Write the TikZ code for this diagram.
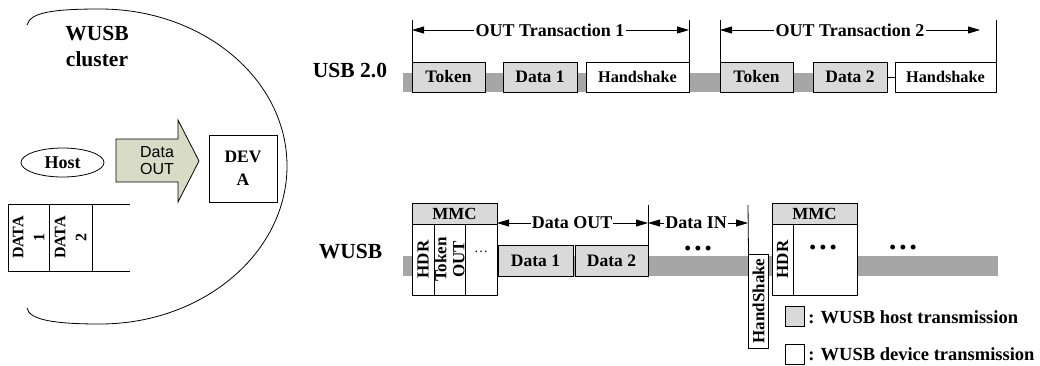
\documentclass[tikz,border=0pt]{standalone}
\usepackage{fontspec}
\setmainfont{Liberation Serif}
\newfontfamily\arialf{Liberation Sans}
\usetikzlibrary{arrows.meta,shapes.geometric}
\definecolor{hostgray}{HTML}{D9D9D9}
\definecolor{bandgray}{HTML}{A6A6A6}
\definecolor{arrowfill}{HTML}{D8DCC6}
\newcommand\bfs[2]{\fontsize{#1}{#2}\selectfont\bfseries}
\begin{document}
\begin{tikzpicture}[x=1pt,y=-1pt,line width=0.8pt,
  cell/.style={draw,inner sep=0pt,outer sep=0pt,font=\bfs{17.5}{18}},
  hbox/.style={cell,fill=hostgray},
  dbox/.style={cell,fill=white},
  band/.style={fill=bandgray,draw=none},
  dimarr/.style={-{Triangle[length=12pt,width=7pt]}},
  lbl/.style={inner sep=1pt,font=\bfs{18}{20}},
  biglbl/.style={inner sep=0pt,font=\bfs{21.5}{24}},
  rot/.style={rotate=90,align=center},
  dots/.style={inner sep=0pt,font=\bfs{18}{18}}
]
\useasboundingbox (0,0) rectangle (1040,365);

% ---------- left: WUSB cluster ----------
\draw (27,25) .. controls (30,12) and (55,9) .. (100,9)
      .. controls (203,9) and (287,79) .. (287,166)
      .. controls (287,253) and (203,324) .. (100,324)
      .. controls (55,324) and (29,320) .. (27,308);
\node[biglbl,anchor=base] (cl1) at (97,40.7) {WUSB};
\node[biglbl,anchor=base] (cl2) at (97,66) {cluster};

\node[draw,ellipse,minimum width=83pt,minimum height=29pt,inner sep=0pt,
      font=\bfs{18}{20}] (host) at (62.5,162.5) {Host};

\draw[fill=arrowfill] (116,139) -- (178,139) -- (178,120) -- (199,161)
      -- (178,202) -- (178,182) -- (116,182) -- cycle;
\node[align=center,inner sep=0pt,font=\arialf\fontsize{16}{17}\selectfont]
      (dout) at (157,161) {Data\\OUT};

\node[dbox,minimum width=68pt,minimum height=67pt,align=center,
      font=\bfs{17.5}{23}] (deva) at (243,168.5) {DEV\\A};

\node[cell,rot,minimum width=67pt,minimum height=41pt,font=\bfs{16}{21}]
      (q1) at (28.5,237.5) {DATA\\1};
\node[cell,rot,minimum width=67pt,minimum height=43pt,font=\bfs{16}{21}]
      (q2) at (70.5,237.5) {DATA\\2};
\coordinate (qt) at (130,204);
\coordinate (qb) at (130,271);
\draw (q2.south east) -- (qt);
\draw (q2.south west) -- (qb);

% ---------- USB 2.0 ----------
\node[biglbl] (usb) at (350,70) {USB 2.0};
\fill[band] (403,73) rectangle (887,92);
\node[hbox,minimum width=73pt,minimum height=30pt] (tok1) at (448.5,77) {Token};
\node[hbox,minimum width=74pt,minimum height=30pt] (dat1) at (540,77) {Data 1};
\node[dbox,minimum width=103pt,minimum height=30pt,font=\bfs{16.3}{18}] (hs1) at (637.5,77) {Handshake};
\node[hbox,minimum width=73pt,minimum height=30pt] (tok2) at (756.5,77) {Token};
\node[hbox,minimum width=74pt,minimum height=30pt] (dat2) at (850,77) {Data 2};
\node[dbox,minimum width=101pt,minimum height=30pt,font=\bfs{16.3}{18}] (hs2) at (945.5,77) {Handshake};
\draw (dat2.east) -- (hs2.west);

\coordinate (v1) at (412,20);
\coordinate (v2) at (689,20);
\coordinate (v3) at (720,20);
\coordinate (v4) at (996,20);
\draw (tok1.north west) -- (v1);
\draw (hs1.north east) -- (v2);
\draw (tok2.north west) -- (v3);
\draw (hs2.north east) -- (v4);
\node[lbl] (tr1) at (550,30) {OUT Transaction 1};
\node[lbl] (tr2) at (850,30) {OUT Transaction 2};
\draw[dimarr] (tr1.west) -- (tr1.west -| v1);
\draw[dimarr] (tr1.east) -- (tr1.east -| v2);
\draw[dimarr] (tr2.west) -- (tr2.west -| v3);
\coordinate (tr2r) at (980,30);
\draw[dimarr] (tr2.east) -- (tr2r);

% ---------- WUSB ----------
\node[biglbl] (wusb) at (350.5,251.5) {WUSB};
\fill[band] (403,256) rectangle (998,276);

\node[hbox,minimum width=85pt,minimum height=21pt,font=\bfs{17}{18}] (mmc1) at (454.5,213.5) {MMC};
\node[cell,rot,minimum width=71pt,minimum height=22pt,fill=white,font=\bfs{17}{18}] (hdr1) at (423,259.5) {HDR};
\node[cell,rot,minimum width=71pt,minimum height=31pt,fill=white,font=\bfs{17}{18}] (tko) at (449.5,259.5) {Token\\OUT};
\node[cell,minimum width=32pt,minimum height=71pt,fill=white] (el1) at (481,259.5) {};
\node[inner sep=0pt,anchor=base,font=\fontsize{14}{14}\selectfont] (el1t) at (481,252) {…};

\node[hbox,minimum width=75pt,minimum height=31pt] (wd1) at (535.5,260.5) {Data 1};
\node[hbox,minimum width=73pt,minimum height=31pt] (wd2) at (611.5,260.5) {Data 2};

\node[dbox,rot,minimum width=94pt,minimum height=20pt,font=\bfs{17}{18}] (hsw) at (758.5,301) {HandShake};

\node[hbox,minimum width=85pt,minimum height=21pt,font=\bfs{17}{18}] (mmc2) at (814.5,213.5) {MMC};
\node[cell,rot,minimum width=71pt,minimum height=21pt,fill=white,font=\bfs{17}{18}] (hdr2) at (782.5,259.5) {HDR};
\node[cell,minimum width=64pt,minimum height=71pt,fill=white] (el2) at (825,259.5) {};

\node[dots] (d1) at (698,250) {•\hspace{4pt}•\hspace{4pt}•};
\node[dots] (d2) at (823,249) {•\hspace{4pt}•\hspace{4pt}•};
\node[dots] (d3) at (903,249) {•\hspace{4pt}•\hspace{4pt}•};

\coordinate (w1) at (648,205);
\coordinate (w2) at (748,205);
\draw (wd2.north east) -- (w1);
\draw (hsw.north east) -- (w2);
\node[lbl,inner sep=0.5pt] (dO) at (572,223) {Data OUT};
\node[lbl,inner sep=0.5pt] (dI) at (696,223) {Data IN};
\draw[dimarr] (dO.west) -- (dO.west -| mmc1.east);
\draw[dimarr] (dO.east) -- (dO.east -| w1);
\draw[dimarr] (dI.west) -- (dI.west -| w1);
\draw[dimarr] (dI.east) -- (dI.east -| w2);

% ---------- legend ----------
\node[hbox,minimum width=19pt,minimum height=20pt] (lg1) at (794.5,316) {};
\node[anchor=west,inner sep=0pt,font=\bfs{18.5}{20}] (lg1t) at (808,317) {: WUSB host transmission};
\node[dbox,minimum width=19pt,minimum height=20pt] (lg2) at (794.5,354) {};
\node[anchor=west,inner sep=0pt,font=\bfs{18.5}{20}] (lg2t) at (808,354) {: WUSB device transmission};
\end{tikzpicture}
\end{document}
